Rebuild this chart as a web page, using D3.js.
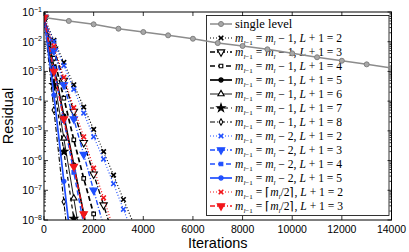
<!DOCTYPE html>
<html>
<head>
<meta charset="utf-8">
<script src="https://cdnjs.cloudflare.com/ajax/libs/d3/7.8.5/d3.min.js"></script>
<style>
  html, body { margin: 0; padding: 0; background: #fff; }
  svg { display: block; }
</style>
</head>
<body>
<div id="chart"></div>
<script>
// single level solver, residual read every 1000 iterations
var singleIters = [0,1000,2000,3000,4000,5000,6000,7000,8000,9000,10000,11000,12000,13000,14000];
var singleRes = [6.5e-2,5.0e-2,3.85e-2,2.74e-2,2.12e-2,1.64e-2,1.26e-2,9.0e-3,7.2e-3,5.55e-3,4.06e-3,3.0e-3,2.29e-3,1.73e-3,1.3e-3];

// multilevel runs, residual read every 400 iterations
var multiIters = [0,400,800,1200,1600,2000,2400,2800,3200,3600];
var resM1L2 = [6.5e-2,1.12e-2,2.0e-3,3.55e-4,6.3e-5,1.12e-5,2.0e-6,3.24e-7,4.9e-8,7.9e-9];
var resM1L3 = [6.5e-2,5.6e-3,5.0e-4,4.5e-5,4.0e-6,3.5e-7,3.2e-8,2.8e-9];
var resM1L4 = [6.5e-2,2.8e-3,1.26e-4,5.0e-6,2.5e-7,1.6e-8,1.0e-9];
var resM1L5 = [6.5e-2,1.4e-3,3.2e-5,7.1e-7,1.6e-8,3.2e-10];
var resM1L6 = [6.5e-2,6.3e-4,5.6e-6,5.4e-8,5.0e-10];
var resM1L7 = [6.5e-2,3.5e-4,2.0e-6,1.12e-8,6.3e-11];
var resM1L8 = [6.5e-2,5.0e-5,4.1e-8,3.2e-11];
var resM2L2 = [6.5e-2,1.0e-2,1.58e-3,2.51e-4,3.98e-5,6.3e-6,1.12e-6,1.66e-7,2.29e-8,3.16e-9];
var resM2L3 = [6.5e-2,5.0e-3,3.5e-4,2.5e-5,1.6e-6,1.0e-7,6.3e-9];
var resM2L4 = [6.5e-2,1.26e-3,2.2e-5,4.0e-7,7.1e-9];
var resM2L5 = [6.5e-2,1.6e-4,2.0e-7,2.5e-10];
var resHalfL2 = [6.5e-2,7.1e-3,6.3e-4,6.0e-5,6.3e-6,5.6e-7,5.6e-8,5.0e-9];
var resHalfL3 = [6.5e-2,1.0e-3,2.5e-5,6.3e-7,1.6e-8,4.0e-10];

// legend label parts
var relations = ["-1","-1","-1","-1","-1","-1","-1","-2","-2","-2","-2","half","half"];
var levels = [2,3,4,5,6,7,8,2,3,4,5,2,3];

var xTicks = [0,2000,4000,6000,8000,10000,12000,14000];
var yDecades = [-8,-7,-6,-5,-4,-3,-2,-1];

var BLUE = "#1f4fff", RED = "#f2161b";

var multiRes = [resM1L2,resM1L3,resM1L4,resM1L5,resM1L6,resM1L7,resM1L8,resM2L2,resM2L3,resM2L4,resM2L5,resHalfL2,resHalfL3];
var styles = [
  {color:"#000", dash:"1,2", w:1.2, marker:"x"},
  {color:"#000", dash:"5,2,1,2", w:1.4, marker:"tridown", fill:"#fff"},
  {color:"#000", dash:"5,3", w:1.7, marker:"square", fill:"#fff"},
  {color:"#000", dash:null, w:1.7, marker:"circle"},
  {color:"#000", dash:null, w:0.9, marker:"triup", fill:"#fff"},
  {color:"#000", dash:"4,3", w:1.2, marker:"star"},
  {color:"#000", dash:"5,2,1,2", w:1.1, marker:"diamond", fill:"#fff"},
  {color:BLUE, dash:"1,2", w:1.2, marker:"x"},
  {color:BLUE, dash:"5,2,1,2", w:1.4, marker:"tridown"},
  {color:BLUE, dash:"5,3", w:1.4, marker:"square"},
  {color:BLUE, dash:null, w:1.7, marker:"circle"},
  {color:RED, dash:"1,2", w:1.2, marker:"x"},
  {color:RED, dash:"5,2,1,2", w:1.4, marker:"tridown"}
];

var width = 409, height = 252;
var margin = {top: 12, right: 17.5, bottom: 32, left: 44};
var x = d3.scaleLinear().domain([0,14000]).range([margin.left, width - margin.right]);
var y = d3.scaleLog().domain([1e-8,1e-1]).range([height - margin.bottom, margin.top]);

var svg = d3.select("#chart").append("svg")
  .attr("width", width)
  .attr("height", height);

svg.append("clipPath").attr("id","plotclip")
  .append("rect")
  .attr("x", x(0)).attr("y", y(1e-1))
  .attr("width", x(14000) - x(0)).attr("height", y(1e-8) - y(1e-1));

// symbols
var symbolPath = function(type) {
  if (type == "x") return "M-2.3,-2.3L2.3,2.3M-2.3,2.3L2.3,-2.3";
  if (type == "circle") return d3.symbol().type(d3.symbolCircle).size(14)();
  if (type == "square") return d3.symbol().type(d3.symbolSquare).size(13)();
  if (type == "star") return d3.symbol().type(d3.symbolStar).size(20)();
  if (type == "diamond") return d3.symbol().type(d3.symbolDiamond).size(12)();
  return d3.symbol().type(d3.symbolTriangle).size(type == "triup" ? 17 : 24)();
};
var drawMarker = function(g, st, cx, cy) {
  g.append("path")
    .attr("d", symbolPath(st.marker))
    .attr("transform", "translate(" + cx + "," + cy + ")" + (st.marker == "tridown" ? " rotate(180)" : ""))
    .attr("stroke", st.color)
    .attr("stroke-width", st.marker == "x" ? 1.6 : 1.1)
    .attr("fill", st.marker == "x" ? "none" : (st.fill || st.color));
};

// legend (the single level curve runs over it)
var lx = 206, ly = 15, lw = 182.5, rowH = 14, lh = rowH * 14 + 4;
var legend = svg.append("g");
legend.append("rect")
  .attr("x", lx + 0.5).attr("y", ly + 0.5).attr("width", lw).attr("height", lh)
  .attr("fill", "#fff").attr("stroke", "#000").attr("stroke-width", 0.8);

var rowY = function(i) { return ly + 9 + i * rowH; };
var fontSerif = "Liberation Serif, Times New Roman, serif";

legend.append("line")
  .attr("x1", lx + 4).attr("x2", lx + 26).attr("y1", rowY(0)).attr("y2", rowY(0))
  .attr("stroke", "#8c8c8c").attr("stroke-width", 1.5);
legend.append("circle")
  .attr("cx", lx + 15).attr("cy", rowY(0)).attr("r", 2.5)
  .attr("fill", "#a8a8a8").attr("stroke", "#808080");
legend.append("text")
  .attr("x", lx + 29).attr("y", rowY(0) + 4)
  .attr("font-family", fontSerif).attr("font-size", "12.5px")
  .text("single level");

styles.forEach(function(st, s) {
  var cy = rowY(s + 1);
  legend.append("line")
    .attr("x1", lx + 4).attr("x2", lx + 26).attr("y1", cy).attr("y2", cy)
    .attr("stroke", st.color).attr("stroke-width", st.w)
    .attr("stroke-dasharray", st.dash);
  drawMarker(legend, st, lx + 15, cy);

  var t = legend.append("text")
    .attr("x", lx + 29).attr("y", cy + 4)
    .attr("font-family", fontSerif).attr("font-size", "11.6px");
  t.append("tspan").attr("font-style", "italic").text("m");
  t.append("tspan").attr("font-style", "italic").attr("font-size", "7px").attr("dy", 2.5).text("l");
  t.append("tspan").attr("font-size", "7px").text("\u22121");
  t.append("tspan").attr("dy", -2.5).text(" = ");
  if (relations[s] == "half") {
    t.append("tspan").text("\u2308");
    t.append("tspan").attr("font-style", "italic").text("m");
    t.append("tspan").attr("font-style", "italic").attr("font-size", "7px").attr("dy", 2.5).text("l");
    t.append("tspan").attr("dy", -2.5).text("/2\u2309, ");
  } else {
    t.append("tspan").attr("font-style", "italic").text("m");
    t.append("tspan").attr("font-style", "italic").attr("font-size", "7px").attr("dy", 2.5).text("l");
    t.append("tspan").attr("dy", -2.5).text(" \u2212 " + relations[s].slice(1) + ", ");
  }
  t.append("tspan").attr("font-style", "italic").text("L");
  t.append("tspan").text(" + 1 = " + levels[s]);
});

// ticks (pointing inward)
var minor = [];
yDecades.forEach(function(e) {
  if (e >= -1) return;
  for (var k = 2; k <= 9; k++) minor.push(k * Math.pow(10, e));
});
var major = yDecades.map(function(e) { return Math.pow(10, e); });

var tickG = svg.append("g").attr("stroke", "#000").attr("stroke-width", 0.8);
tickG.selectAll(".xb").data(xTicks).enter().append("line")
  .attr("x1", function(d) { return x(d); }).attr("x2", function(d) { return x(d); })
  .attr("y1", y(1e-8)).attr("y2", y(1e-8) - 4);
tickG.selectAll(".xt").data(xTicks).enter().append("line")
  .attr("x1", function(d) { return x(d); }).attr("x2", function(d) { return x(d); })
  .attr("y1", y(1e-1)).attr("y2", y(1e-1) + 4);
[x(0), x(14000)].forEach(function(x0, i) {
  var s = i == 0 ? 1 : -1;
  tickG.append("g").selectAll("line").data(major).enter().append("line")
    .attr("x1", x0).attr("x2", x0 + s * 4)
    .attr("y1", function(d) { return y(d); }).attr("y2", function(d) { return y(d); });
  tickG.append("g").selectAll("line").data(minor).enter().append("line")
    .attr("x1", x0).attr("x2", x0 + s * 2)
    .attr("y1", function(d) { return y(d); }).attr("y2", function(d) { return y(d); });
});

var plot = svg.append("g").attr("clip-path", "url(#plotclip)");
var line = d3.line()
  .x(function(d) { return x(d[0]); })
  .y(function(d) { return y(d[1]); });

// single level
var singlePts = singleIters.map(function(it, i) { return [it, singleRes[i]]; });
plot.append("path").datum(singlePts)
  .attr("d", line).attr("fill", "none")
  .attr("stroke", "#8c8c8c").attr("stroke-width", 1.5);
plot.selectAll(".sl").data(singlePts).enter().append("circle")
  .attr("cx", function(d) { return x(d[0]); })
  .attr("cy", function(d) { return y(d[1]); })
  .attr("r", 2.5)
  .attr("fill", "#a8a8a8").attr("stroke", "#808080").attr("stroke-width", 1);

// multilevel
multiRes.forEach(function(res, s) {
  var st = styles[s];
  var pts = res.map(function(r, i) { return [multiIters[i], r]; });
  var g = plot.append("g");
  g.append("path").datum(pts)
    .attr("d", line).attr("fill", "none")
    .attr("stroke", st.color).attr("stroke-width", st.w)
    .attr("stroke-dasharray", st.dash);
  pts.forEach(function(p) {
    if (p[1] < 5e-9) return;
    drawMarker(g, st, x(p[0]), y(p[1]));
  });
});

// frame
svg.append("rect")
  .attr("x", x(0)).attr("y", y(1e-1))
  .attr("width", x(14000) - x(0)).attr("height", y(1e-8) - y(1e-1))
  .attr("fill", "none").attr("stroke", "#000").attr("stroke-width", 1);

// tick labels
svg.append("g").selectAll("text").data(xTicks).enter().append("text")
  .attr("x", function(d) { return x(d); })
  .attr("y", y(1e-8) + 13)
  .attr("text-anchor", "middle")
  .attr("font-family", "Liberation Sans, Arial, sans-serif")
  .attr("font-size", "10.5px")
  .text(function(d) { return d; });

var yl = svg.append("g").selectAll("text").data(yDecades).enter().append("text")
  .attr("x", x(0) - 2)
  .attr("y", function(d) { return y(Math.pow(10, d)) + 4; })
  .attr("text-anchor", "end")
  .attr("font-family", "Liberation Sans, Arial, sans-serif")
  .attr("font-size", "10.5px")
  .text("10");
yl.append("tspan")
  .attr("dy", -4.5)
  .attr("font-size", "7px")
  .text(function(d) { return "\u2212" + (-d); });

svg.append("text")
  .attr("x", (x(0) + x(14000)) / 2)
  .attr("y", 248)
  .attr("text-anchor", "middle")
  .attr("font-family", "Liberation Sans, Arial, sans-serif")
  .attr("font-size", "14.5px")
  .text("Iterations");
svg.append("text")
  .attr("transform", "translate(13," + (y(1e-8) + y(1e-1)) / 2 + ") rotate(-90)")
  .attr("text-anchor", "middle")
  .attr("font-family", "Liberation Sans, Arial, sans-serif")
  .attr("font-size", "14.5px")
  .text("Residual");
</script>
</body>
</html>
